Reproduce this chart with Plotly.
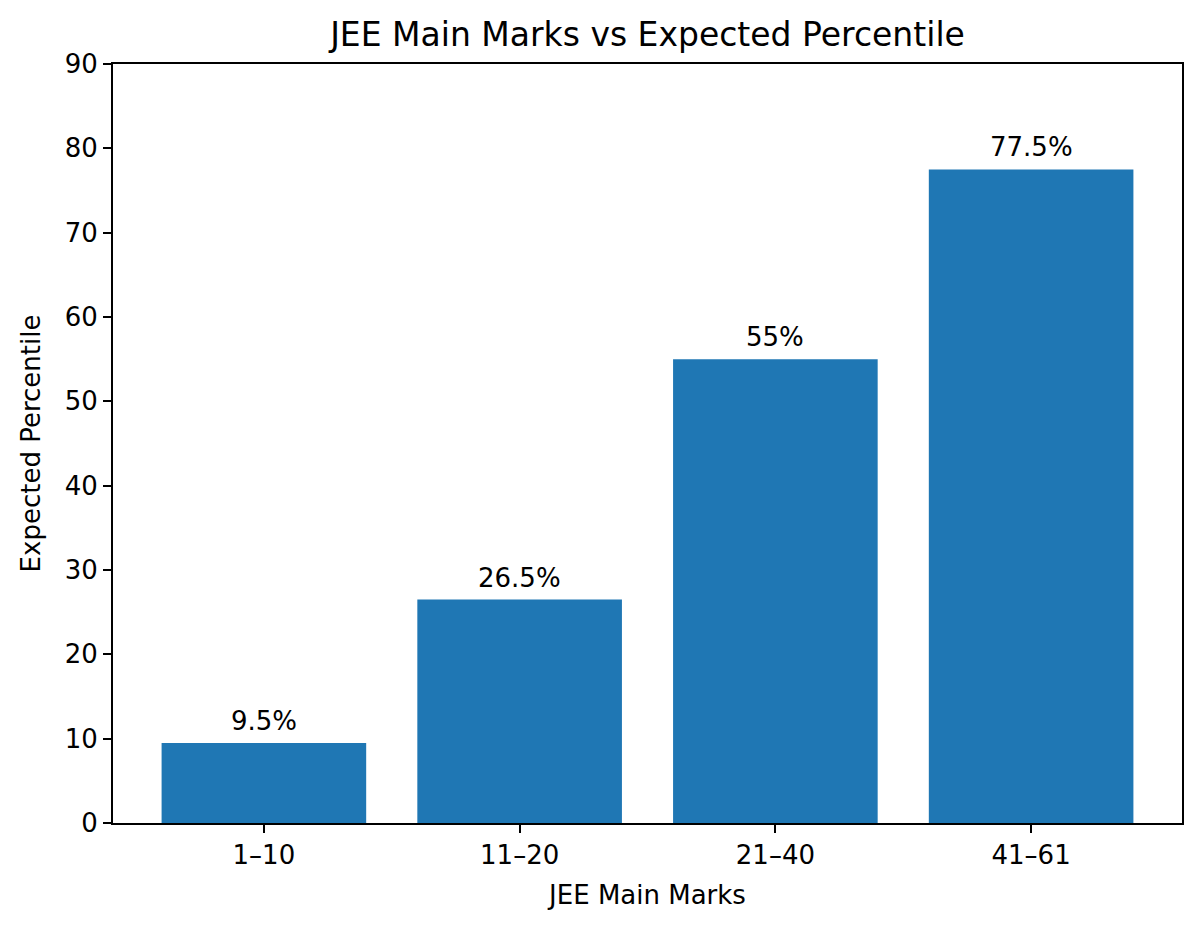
import plotly.graph_objects as go

# data
marks = ["1–10", "11–20", "21–40", "41–61"]
percentile = [9.5, 26.5, 55, 77.5]
bar_labels = ["9.5%", "26.5%", "55%", "77.5%"]
y_ticks = [0, 10, 20, 30, 40, 50, 60, 70, 80, 90]

FONT = "DejaVu Sans"
BLUE = "#1f77b4"

fig = go.Figure()
fig.add_trace(go.Bar(x=marks, y=percentile, width=0.8,
                     marker=dict(color=BLUE, line=dict(width=0))))

# value labels just above each bar
for m, p, lab in zip(marks, percentile, bar_labels):
    fig.add_annotation(x=m, y=p, text=lab, showarrow=False,
                       yanchor="bottom", yshift=5,
                       font=dict(family=FONT, size=26, color="black"))

axis_style = dict(showline=True, linecolor="black", linewidth=2, mirror=True,
                  ticks="outside", ticklen=8, tickwidth=2, tickcolor="black",
                  showgrid=False, zeroline=False,
                  tickfont=dict(family=FONT, size=26, color="black"))

fig.update_xaxes(range=[-0.59, 3.59],
                 title=dict(text="JEE Main Marks", standoff=17,
                            font=dict(family=FONT, size=26, color="black")),
                 **axis_style)
fig.update_yaxes(range=[0, 90], tickvals=y_ticks,
                 title=dict(text="Expected Percentile", standoff=17,
                            font=dict(family=FONT, size=26, color="black")),
                 **axis_style)

# the page body adds an 8px margin, so the figure is 8px smaller each way
fig.update_layout(
    width=1192, height=918,
    margin=dict(l=105, r=18, t=56, b=103),
    paper_bgcolor="white", plot_bgcolor="white",
    showlegend=False,
    title=dict(text="JEE Main Marks vs Expected Percentile", x=0.5, xref="paper",
               y=1 - 26 / 918, yref="container", yanchor="middle",
               font=dict(family=FONT, size=33, color="black")),
)

fig.write_html("out.html")
